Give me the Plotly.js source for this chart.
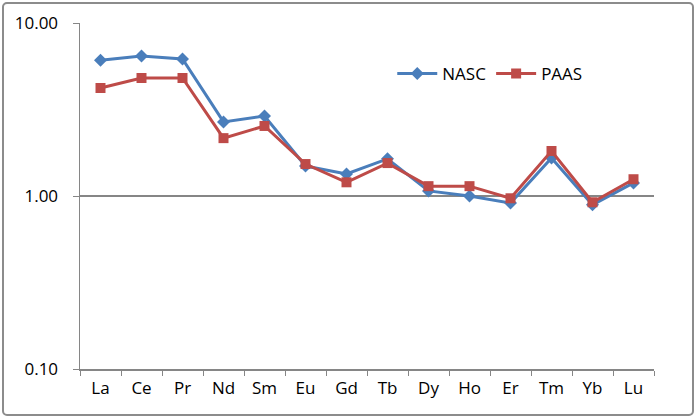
<!DOCTYPE html>
<html>
<head>
<meta charset="utf-8">
<script src="https://cdn.plot.ly/plotly-3.0.1.min.js"></script>
<style>
    body { margin: 0; background: #ffffff; }
    #wrap { position: relative; width: 697px; height: 419px; }
    #frame {
        position: absolute; left: 2px; top: 2px; width: 692px; height: 414px;
        box-sizing: border-box; border: 2px solid #8c8c8c; border-radius: 5px;
        pointer-events: none;
    }
    #chartDiv { position: absolute; left: 0; top: 0; width: 697px; height: 419px; }
</style>
</head>
<body>
<div id="wrap">
    <div id="chartDiv"></div>
    <div id="frame"></div>
</div>
<script>
const elements = ["La", "Ce", "Pr", "Nd", "Sm", "Eu", "Gd", "Tb", "Dy", "Ho", "Er", "Tm", "Yb", "Lu"]
const nascValues = [6.1, 6.45, 6.2, 2.68, 2.9, 1.49, 1.34, 1.64, 1.07, 1.0, 0.91, 1.66, 0.89, 1.19]
const paasValues = [4.21, 4.81, 4.81, 2.16, 2.54, 1.53, 1.2, 1.55, 1.14, 1.14, 0.97, 1.82, 0.92, 1.25]
const yTickVals = [0.1, 1, 10]
const yTickText = ["0.10", "1.00", "10.00"]

const axisGray = "#868686"

let nasc = {
    type: 'scatter',
    x: elements,
    y: nascValues,
    mode: 'lines+markers',
    name: 'NASC',
    line: { color: '#4a7ebb', width: 3 },
    marker: { symbol: 'diamond', size: 10, color: '#4a7ebb' }
}

let paas = {
    type: 'scatter',
    x: elements,
    y: paasValues,
    mode: 'lines+markers',
    name: 'PAAS',
    line: { color: '#be4b48', width: 3 },
    marker: { symbol: 'square', size: 10, color: '#be4b48' }
}

let layout = {
    width: 697,
    height: 419,
    margin: { l: 80, r: 43, t: 23, b: 50 },
    paper_bgcolor: 'rgba(0,0,0,0)',
    plot_bgcolor: '#ffffff',
    font: { family: 'Open Sans, sans-serif', size: 17, color: '#000000' },
    showlegend: true,
    legend: {
        orientation: 'h',
        x: 0.544, y: 0.853,
        xanchor: 'left', yanchor: 'middle',
        bgcolor: 'rgba(0,0,0,0)',
        itemwidth: 40,
        font: { size: 17 }
    },
    xaxis: {
        type: 'category',
        showline: true,
        linecolor: axisGray,
        linewidth: 1.5,
        showgrid: false,
        ticks: 'outside',
        tickson: 'boundaries',
        ticklen: 5,
        tickcolor: axisGray,
        ticklabelstandoff: 3,
        range: [-0.5, 13.5]
    },
    yaxis: {
        type: 'log',
        range: [-1, 1],
        tickvals: yTickVals,
        ticktext: yTickText,
        showline: true,
        linecolor: axisGray,
        linewidth: 1.5,
        showgrid: true,
        gridcolor: axisGray,
        gridwidth: 1.5,
        ticks: 'outside',
        ticklen: 6,
        tickcolor: axisGray,
        ticklabelstandoff: 11,
        zeroline: false
    }
}

Plotly.newPlot('chartDiv', [nasc, paas], layout, { displayModeBar: false, staticPlot: true })
</script>
</body>
</html>
